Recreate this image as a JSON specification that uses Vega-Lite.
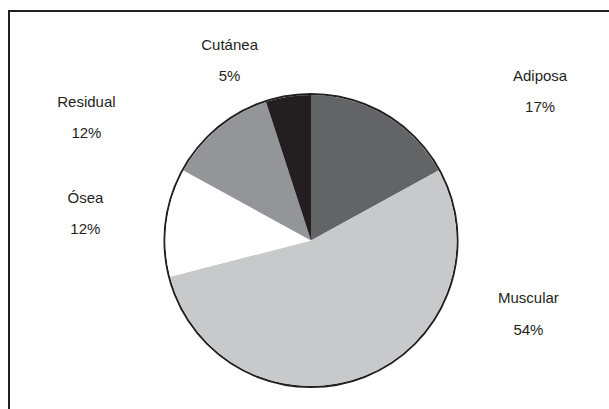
{
  "$schema": "https://vega.github.io/schema/vega-lite/v6.json",
  "width": 600,
  "height": 398,
  "autosize": {"type": "none"},
  "padding": {"left": 9, "top": 11, "right": 0, "bottom": 0},
  "background": "#ffffff",
  "config": {
    "view": {"stroke": null},
    "text": {"font": "Liberation Sans", "fontSize": 15, "fill": "#231f20"}
  },
  "data": {
    "values": [
      {"tejido": "Adiposa", "valor": 0.17, "orden": 1},
      {"tejido": "Muscular", "valor": 0.54, "orden": 2},
      {"tejido": "Ósea", "valor": 0.12, "orden": 3},
      {"tejido": "Residual", "valor": 0.12, "orden": 4},
      {"tejido": "Cutánea", "valor": 0.05, "orden": 5}
    ]
  },
  "layer": [
    {
      "transform": [{"aggregate": [{"op": "count", "as": "n"}]}],
      "mark": {"type": "rect", "fill": "transparent", "stroke": "#231f20", "strokeWidth": 2, "strokeDash": [600, 998, 398, 2]},
      "encoding": {}
    },
    {
      "mark": {"type": "arc", "radius": 146.5, "fillOpacity": 0, "stroke": "#231f20", "strokeWidth": 2, "xOffset": 2, "yOffset": 30.5},
      "encoding": {
        "theta": {"aggregate": "sum", "field": "valor", "type": "quantitative"}
      }
    },
    {
      "encoding": {
        "theta": {"field": "valor", "type": "quantitative", "stack": true},
        "order": {"field": "orden", "type": "quantitative"}
      },
      "layer": [
        {
          "mark": {"type": "arc", "radius": 145.5, "xOffset": 2, "yOffset": 30.5},
          "encoding": {
            "color": {
              "field": "tejido",
              "type": "nominal",
              "scale": {
                "domain": ["Adiposa", "Muscular", "Ósea", "Residual", "Cutánea"],
                "range": ["#636466", "#c8c9cb", "#ffffff", "#939598", "#231f20"]
              },
              "legend": null
            }
          }
        },
        {
          "mark": {"type": "text", "radius": 175, "xOffset": 2, "yOffset": 30.5, "dx": 140, "dy": -13.5},
          "encoding": {"text": {"condition": {"test": "datum.tejido === 'Adiposa'", "field": "tejido"}, "value": ""}}
        },
        {
          "mark": {"type": "text", "radius": 175, "xOffset": 2, "yOffset": 30.5, "dx": 140, "dy": 17.5},
          "encoding": {"text": {"condition": {"test": "datum.tejido === 'Adiposa'", "field": "valor", "type": "quantitative", "format": ".0%"}, "value": ""}}
        },
        {
          "mark": {"type": "text", "radius": 175, "xOffset": 2, "yOffset": 30.5, "dx": 153, "dy": -105},
          "encoding": {"text": {"condition": {"test": "datum.tejido === 'Muscular'", "field": "tejido"}, "value": ""}}
        },
        {
          "mark": {"type": "text", "radius": 175, "xOffset": 2, "yOffset": 30.5, "dx": 153, "dy": -73},
          "encoding": {"text": {"condition": {"test": "datum.tejido === 'Muscular'", "field": "valor", "type": "quantitative", "format": ".0%"}, "value": ""}}
        },
        {
          "mark": {"type": "text", "radius": 175, "xOffset": 2, "yOffset": 30.5, "dx": -52, "dy": -20.5},
          "encoding": {"text": {"condition": {"test": "datum.tejido === 'Ósea'", "field": "tejido"}, "value": ""}}
        },
        {
          "mark": {"type": "text", "radius": 175, "xOffset": 2, "yOffset": 30.5, "dx": -52, "dy": 10.5},
          "encoding": {"text": {"condition": {"test": "datum.tejido === 'Ósea'", "field": "valor", "type": "quantitative", "format": ".0%"}, "value": ""}}
        },
        {
          "mark": {"type": "text", "radius": 175, "xOffset": 2, "yOffset": 30.5, "dx": -113, "dy": -3.5},
          "encoding": {"text": {"condition": {"test": "datum.tejido === 'Residual'", "field": "tejido"}, "value": ""}}
        },
        {
          "mark": {"type": "text", "radius": 175, "xOffset": 2, "yOffset": 30.5, "dx": -113, "dy": 27.5},
          "encoding": {"text": {"condition": {"test": "datum.tejido === 'Residual'", "field": "valor", "type": "quantitative", "format": ".0%"}, "value": ""}}
        },
        {
          "mark": {"type": "text", "radius": 175, "xOffset": 2, "yOffset": 30.5, "dx": -54, "dy": -22.5},
          "encoding": {"text": {"condition": {"test": "datum.tejido === 'Cutánea'", "field": "tejido"}, "value": ""}}
        },
        {
          "mark": {"type": "text", "radius": 175, "xOffset": 2, "yOffset": 30.5, "dx": -54, "dy": 8.5},
          "encoding": {"text": {"condition": {"test": "datum.tejido === 'Cutánea'", "field": "valor", "type": "quantitative", "format": ".0%"}, "value": ""}}
        }
      ]
    }
  ]
}
